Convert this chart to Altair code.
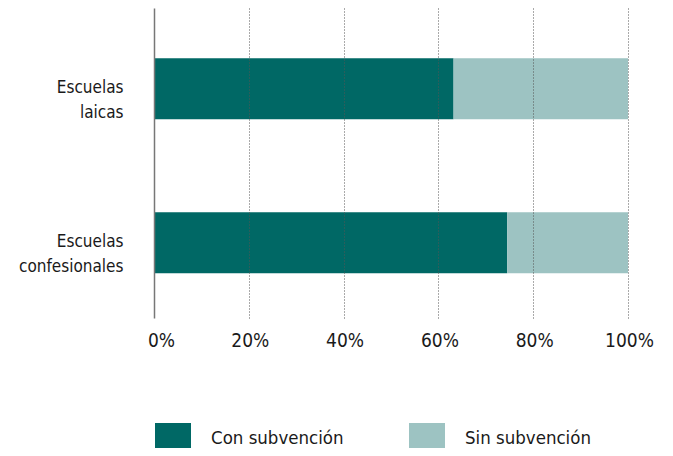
import altair as alt
import pandas as pd

categories = ["Escuelas laicas", "Escuelas confesionales"]
series = ["Con subvención", "Sin subvención"]
con_subvencion = [63.2, 74.5]
sin_subvencion = [36.8, 25.5]
colors = ["#006865", "#9dc3c2"]
tick_values = [0, 20, 40, 60, 80, 100]

rows = []
for i, c in enumerate(categories):
    rows.append({"cat": c, "serie": series[0], "val": con_subvencion[i], "ord": 0})
    rows.append({"cat": c, "serie": series[1], "val": sin_subvencion[i], "ord": 1})
df = pd.DataFrame(rows)

FONT = "DejaVu Sans Condensed, sans-serif"
TXT = "#1a1a1a"

rect_path = "M-1,-0.833H1V0.833H-1Z"

chart = alt.Chart(df).mark_bar().encode(
    x=alt.X(
        "val:Q",
        stack="zero",
        scale=alt.Scale(domain=[0, 100], nice=False),
        axis=alt.Axis(
            values=tick_values,
            title=None,
            domain=False,
            ticks=False,
            grid=True,
            gridDash=[1, 2],
            gridColor="#555555",
            gridWidth=1,
            gridOpacity={"condition": {"test": "datum.value == 0", "value": 0}, "value": 1},
            labelExpr="datum.value + '%'",
            labelFont=FONT,
            labelFontSize=19,
            labelColor=TXT,
            labelPadding=13,
            labelFlush=False,
            labelOffset={"condition": {"test": "datum.value == 0", "value": 7}, "value": 1},
            zindex=1,
        ),
    ),
    y=alt.Y(
        "cat:N",
        sort=categories,
        scale=alt.Scale(paddingInner=0.604, paddingOuter=0.3085, align=0.53),
        axis=alt.Axis(
            title=None,
            domain=True,
            domainColor="#777777",
            domainWidth=1.5,
            ticks=False,
            grid=False,
            labelExpr="split(datum.label, ' ')",
            labelFont=FONT,
            labelFontSize=17,
            labelLineHeight=25,
            labelColor=TXT,
            labelAlign="right",
            labelBaseline="middle",
            labelPadding=31,
            labelOffset=-1,
            labelLimit=200,
            zindex=2,
        ),
    ),
    color=alt.Color(
        "serie:N",
        scale=alt.Scale(domain=series, range=colors),
        legend=alt.Legend(
            title=None,
            orient="none",
            direction="horizontal",
            legendX=1,
            legendY=412,
            symbolType=rect_path,
            symbolSize=1296,
            symbolStrokeWidth=0,
            symbolOpacity=1,
            labelFont=FONT,
            labelFontSize=18.5,
            labelColor=TXT,
            labelOffset=20,
            columnPadding=65,
            padding=0,
            labelLimit=300,
        ),
    ),
    order=alt.Order("ord:Q"),
).properties(
    width=474,
    height=310,
    autosize=alt.AutoSizeParams(type="none"),
    padding={"left": 146, "top": 0, "right": 37, "bottom": 130},
).configure_view(stroke=None)

chart.save("out.html", embed_options={"renderer": "svg", "actions": False})
